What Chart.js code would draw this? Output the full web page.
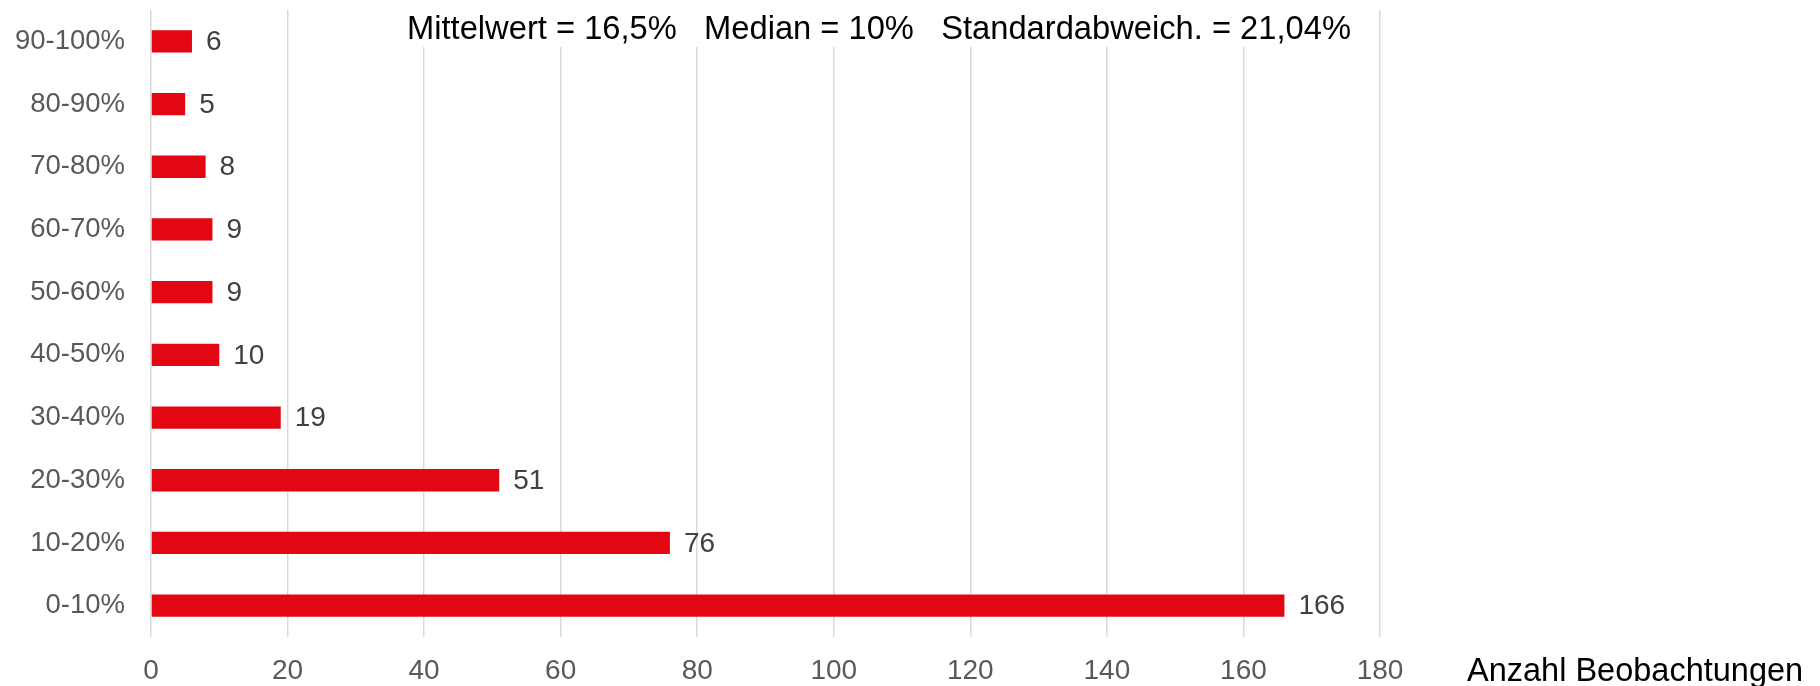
<!DOCTYPE html>
<html>
<head>
<meta charset="utf-8">
<script src="https://cdn.jsdelivr.net/npm/chart.js@4/dist/chart.umd.min.js"></script>
<style>
  html, body { margin: 0; padding: 0; background: #fff; }
  #wrap { width: 1820px; height: 686px; position: relative; }
</style>
</head>
<body>
<div id="wrap"><canvas id="chart"></canvas></div>
<script>
const categories = ["0-10%", "10-20%", "20-30%", "30-40%", "40-50%", "50-60%", "60-70%", "70-80%", "80-90%", "90-100%"];
const counts = [166, 76, 51, 19, 10, 9, 9, 8, 5, 6];
const xTicks = [0, 20, 40, 60, 80, 100, 120, 140, 160, 180];
const statsLine = "Mittelwert = 16,5%   Median = 10%   Standardabweich. = 21,04%";
const xTitle = "Anzahl Beobachtungen";

const FONT = "'Liberation Sans', Arial, sans-serif";
const RED = "#e30613";

// value next to each bar
const valueLabels = {
  id: "valueLabels",
  afterDatasetsDraw(chart) {
    const ctx = chart.ctx;
    const meta = chart.getDatasetMeta(0);
    ctx.save();
    ctx.font = `28px ${FONT}`;
    ctx.fillStyle = "#404040";
    ctx.textAlign = "left";
    ctx.textBaseline = "middle";
    meta.data.forEach((bar, i) => {
      ctx.fillText(String(counts[i]), bar.x + 14, bar.y + 1);
    });
    ctx.restore();
  }
};

// stats header (on white, over the grid) and axis title on the right
const extraText = {
  id: "extraText",
  afterDraw(chart) {
    const ctx = chart.ctx;
    const area = chart.chartArea;
    ctx.save();
    ctx.font = `32.7px ${FONT}`;
    const w = ctx.measureText(statsLine).width;
    const cx = 879;
    ctx.fillStyle = "#fff";
    ctx.fillRect(cx - w / 2 - 8, area.top, w + 16, 37);
    ctx.fillStyle = "#000";
    ctx.textAlign = "center";
    ctx.textBaseline = "alphabetic";
    ctx.fillText(statsLine, cx, 38.5);
    ctx.font = `32.5px ${FONT}`;
    ctx.textAlign = "left";
    ctx.fillText(xTitle, area.right + 87, 681);
    ctx.restore();
  }
};

new Chart(document.getElementById("chart"), {
  type: "bar",
  data: {
    labels: categories,
    datasets: [{
      data: counts,
      backgroundColor: RED,
      borderWidth: 0,
      barPercentage: 0.356,
      categoryPercentage: 1
    }]
  },
  options: {
    indexAxis: "y",
    responsive: true,
    maintainAspectRatio: false,
    animation: false,
    layout: { padding: { top: 10, right: 440, bottom: 0, left: 0 } },
    plugins: {
      legend: { display: false },
      tooltip: { enabled: false }
    },
    scales: {
      x: {
        min: 0,
        max: 180,
        afterBuildTicks: s => { s.ticks = xTicks.map(v => ({ value: v })); },
        afterFit: s => { s.height = 49; s.paddingLeft = 0; s.paddingRight = 0; },
        grid: { color: "#d9d9d9", lineWidth: 1.5, drawTicks: false },
        border: { display: false },
        ticks: { color: "#595959", font: { family: FONT, size: 28 }, padding: 17 }
      },
      y: {
        reverse: true,
        afterFit: s => { s.width = 151; s.paddingTop = 0; s.paddingBottom = 0; },
        grid: { display: false, drawTicks: false },
        border: { display: false },
        ticks: { color: "#595959", font: { family: FONT, size: 27.5 }, padding: 26 }
      }
    }
  },
  plugins: [valueLabels, extraText]
});
</script>
</body>
</html>
